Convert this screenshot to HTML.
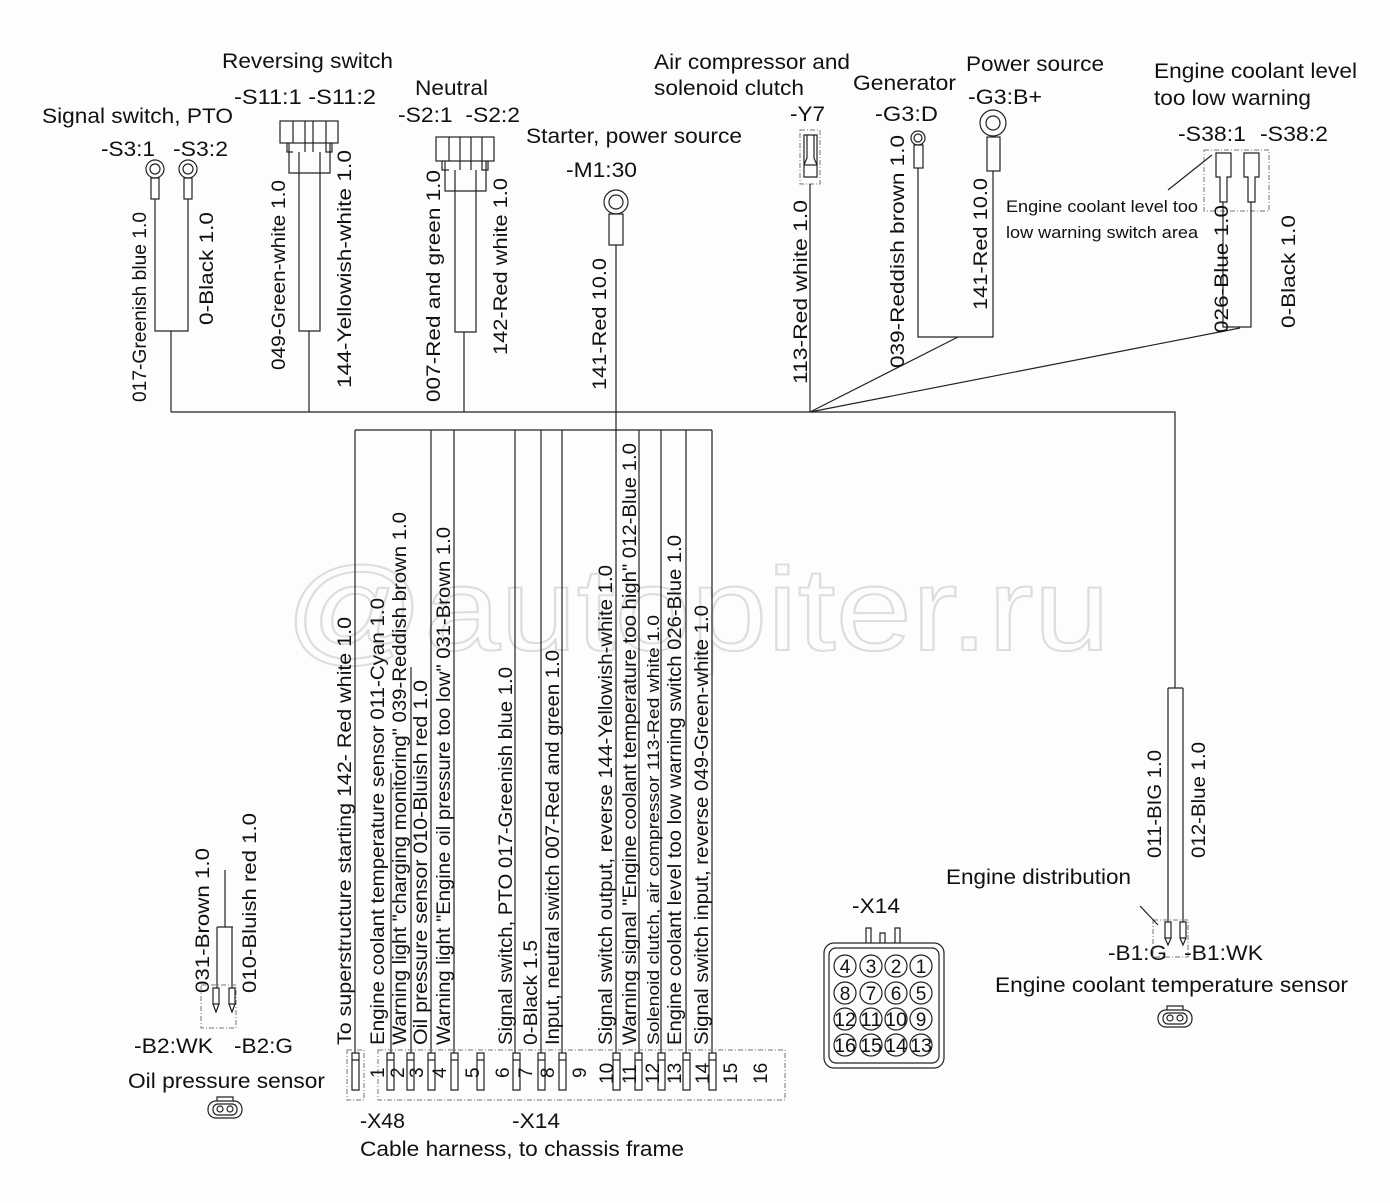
<!DOCTYPE html>
<html><head><meta charset="utf-8"><style>
html,body{margin:0;padding:0;background:#fff;}
svg{display:block;}
text{font-family:"Liberation Sans",Arial,sans-serif;fill:#111;}
.l{stroke:#222;stroke-width:1.2;fill:none;}
.d{stroke:#777;stroke-width:1;fill:none;stroke-dasharray:5,2,1,2;}
</style></head><body>
<svg width="1390" height="1203" viewBox="0 0 1390 1203" xmlns="http://www.w3.org/2000/svg">
<rect width="1390" height="1203" fill="#fcfdfd"/>
<!-- watermark -->
<text x="285" y="650" font-size="118" style="fill:none;stroke:#ddd;stroke-width:2" textLength="825" lengthAdjust="spacingAndGlyphs">@autopiter.ru</text>

<!-- titles top -->
<g font-size="21">
<text x="42" y="123" textLength="191" lengthAdjust="spacingAndGlyphs">Signal switch, PTO</text>
<text x="101" y="156" textLength="54" lengthAdjust="spacingAndGlyphs">-S3:1</text><text x="173" y="156" textLength="55" lengthAdjust="spacingAndGlyphs">-S3:2</text>
<text x="222" y="68" textLength="171" lengthAdjust="spacingAndGlyphs">Reversing switch</text>
<text x="234" y="104" textLength="142" lengthAdjust="spacingAndGlyphs">-S11:1 -S11:2</text>
<text x="415" y="95" textLength="73" lengthAdjust="spacingAndGlyphs">Neutral</text>
<text x="398" y="122" textLength="122" lengthAdjust="spacingAndGlyphs">-S2:1 &#160;-S2:2</text>
<text x="526" y="143" textLength="216" lengthAdjust="spacingAndGlyphs">Starter, power source</text>
<text x="566" y="177" textLength="71" lengthAdjust="spacingAndGlyphs">-M1:30</text>
<text x="654" y="69" textLength="196" lengthAdjust="spacingAndGlyphs">Air compressor and</text>
<text x="654" y="95" textLength="150" lengthAdjust="spacingAndGlyphs">solenoid clutch</text>
<text x="790" y="121" textLength="35" lengthAdjust="spacingAndGlyphs">-Y7</text>
<text x="853" y="90" textLength="103" lengthAdjust="spacingAndGlyphs">Generator</text>
<text x="875" y="121" textLength="63" lengthAdjust="spacingAndGlyphs">-G3:D</text>
<text x="966" y="71" textLength="138" lengthAdjust="spacingAndGlyphs">Power source</text>
<text x="968" y="104" textLength="74" lengthAdjust="spacingAndGlyphs">-G3:B+</text>
<text x="1154" y="78" textLength="203" lengthAdjust="spacingAndGlyphs">Engine coolant level</text>
<text x="1154" y="105" textLength="157" lengthAdjust="spacingAndGlyphs">too low warning</text>
<text x="1178" y="141" textLength="68" lengthAdjust="spacingAndGlyphs">-S38:1</text><text x="1260" y="141" textLength="68" lengthAdjust="spacingAndGlyphs">-S38:2</text>
<text x="946" y="884" textLength="185" lengthAdjust="spacingAndGlyphs">Engine distribution</text>
<text x="1108" y="960" textLength="59" lengthAdjust="spacingAndGlyphs">-B1:G</text><text x="1184" y="960" textLength="79" lengthAdjust="spacingAndGlyphs">-B1:WK</text>
<text x="995" y="992" textLength="353" lengthAdjust="spacingAndGlyphs">Engine coolant temperature sensor</text>
<text x="852" y="913" textLength="48" lengthAdjust="spacingAndGlyphs">-X14</text>
<text x="134" y="1053" textLength="79" lengthAdjust="spacingAndGlyphs">-B2:WK</text><text x="234" y="1053" textLength="59" lengthAdjust="spacingAndGlyphs">-B2:G</text>
<text x="128" y="1088" textLength="197" lengthAdjust="spacingAndGlyphs">Oil pressure sensor</text>
<text x="360" y="1128" textLength="45" lengthAdjust="spacingAndGlyphs">-X48</text>
<text x="512" y="1128" textLength="48" lengthAdjust="spacingAndGlyphs">-X14</text>
<text x="360" y="1156" textLength="324" lengthAdjust="spacingAndGlyphs">Cable harness, to chassis frame</text>
</g>
<text x="1006" y="212" font-size="17" textLength="192" lengthAdjust="spacingAndGlyphs">Engine coolant level too</text>
<text x="1006" y="238" font-size="17" textLength="192" lengthAdjust="spacingAndGlyphs">low warning switch area</text>

<!-- S3 -->
<circle class="l" cx="155" cy="169" r="9"/><circle class="l" cx="155" cy="169" r="5"/>
<rect class="l" x="151" y="178" width="8" height="21"/>
<circle class="l" cx="188" cy="169" r="9"/><circle class="l" cx="188" cy="169" r="5"/>
<rect class="l" x="184" y="178" width="8" height="21"/>
<path class="l" d="M155 199V331H188V199M171 331V412"/>
<!-- S11 -->
<rect class="l" x="280" y="121" width="58" height="22"/>
<path class="l" d="M293 121V143M305 121V152M313 121V152M326 121V143M287 143V152H293M326 143V152H332V143"/>
<path class="l" d="M289 143V173H330V143M299 152V331H320V152M309 331V412"/>
<!-- S2 -->
<rect class="l" x="436" y="137" width="58" height="24"/>
<path class="l" d="M449 137V161M460 137V170M471 137V170M482 137V161M442 161V170H449M482 161V170H488V161"/>
<path class="l" d="M445 161V191H486V161M455 170V332H476V170M464 332V412"/>
<!-- M1 -->
<circle class="l" cx="616" cy="202" r="12"/><circle class="l" cx="616" cy="202" r="7"/>
<rect class="l" x="609" y="214" width="14" height="31"/>
<path class="l" d="M616 245V430"/>
<!-- Y7 -->
<rect class="d" x="800" y="130" width="20" height="54"/>
<path class="l" d="M804 135H817V177H804ZM804 165H817M807 135V158L804 165M814 135V158L817 165"/>
<path class="l" d="M810 184V412"/>
<!-- G3 -->
<circle class="l" cx="918" cy="138" r="7"/><circle class="l" cx="918" cy="138" r="4"/>
<rect class="l" x="914" y="145" width="9" height="23"/>
<circle class="l" cx="993" cy="123" r="13"/><circle class="l" cx="993" cy="123" r="7"/>
<rect class="l" x="987" y="137" width="13" height="34"/>
<path class="l" d="M918 168V337H993V171M958 337L810 412"/>
<!-- S38 -->
<rect class="d" x="1204" y="150" width="65" height="61"/>
<path class="l" d="M1216 153H1231V177H1227V202H1220V177H1216Z M1244 153H1259V177H1255V202H1248V177H1244Z"/>
<path class="l" d="M1223 202V327H1251V202M1240 328L810 412M1168 190L1212 155"/>
<!-- main lines -->
<path class="l" d="M171 412H1175V688M355 430H712"/>
<path class="l" d="M355 430V1053M431 430V1053M454 430V1053M515 430V1053M541 430V1053M562 430V1053M616 430V1053M639 430V1053M661 430V1053M686 430V1053M712 430V1053M391 773V1053M411 667V1053"/>
<!-- pins -->
<g class="l" stroke-width="1">
<path d="M352 1053h7v7h-7zM352 1060h7v30h-7z"/>
<path d="M387 1053h7v7h-7zM387 1060h7v30h-7z"/>
<path d="M407 1053h7v7h-7zM407 1060h7v30h-7z"/>
<path d="M428 1053h7v7h-7zM428 1060h7v30h-7z"/>
<path d="M451 1053h7v7h-7zM451 1060h7v30h-7z"/>
<path d="M477 1053h7v7h-7zM477 1060h7v30h-7z"/>
<path d="M513 1053h7v7h-7zM513 1060h7v30h-7z"/>
<path d="M538 1053h7v7h-7zM538 1060h7v30h-7z"/>
<path d="M559 1053h7v7h-7zM559 1060h7v30h-7z"/>
<path d="M613 1053h7v7h-7zM613 1060h7v30h-7z"/>
<path d="M635 1053h7v7h-7zM635 1060h7v30h-7z"/>
<path d="M658 1053h7v7h-7zM658 1060h7v30h-7z"/>
<path d="M683 1053h7v7h-7zM683 1060h7v30h-7z"/>
<path d="M709 1053h7v7h-7zM709 1060h7v30h-7z"/>
</g>
<rect class="d" x="347" y="1050" width="17" height="50"/>
<rect class="d" x="378" y="1050" width="407" height="50"/>
<g font-size="19">
<text transform="translate(384,1078) rotate(-90)">1</text>
<text transform="translate(404,1078) rotate(-90)">2</text>
<text transform="translate(423,1078) rotate(-90)">3</text>
<text transform="translate(446,1078) rotate(-90)">4</text>
<text transform="translate(479,1078) rotate(-90)">5</text>
<text transform="translate(509,1078) rotate(-90)">6</text>
<text transform="translate(532,1078) rotate(-90)">7</text>
<text transform="translate(554,1078) rotate(-90)">8</text>
<text transform="translate(586,1078) rotate(-90)">9</text>
<text transform="translate(613,1084) rotate(-90)">10</text>
<text transform="translate(636,1084) rotate(-90)">11</text>
<text transform="translate(659,1084) rotate(-90)">12</text>
<text transform="translate(681,1084) rotate(-90)">13</text>
<text transform="translate(709,1084) rotate(-90)">14</text>
<text transform="translate(737,1084) rotate(-90)">15</text>
<text transform="translate(767,1084) rotate(-90)">16</text>
</g>

<!-- vertical labels -->
<g font-size="19">
<text transform="translate(146,402) rotate(-90)" textLength="190" lengthAdjust="spacingAndGlyphs">017-Greenish blue 1.0</text>
<text transform="translate(213,325) rotate(-90)" textLength="113" lengthAdjust="spacingAndGlyphs">0-Black 1.0</text>
<text transform="translate(285,370) rotate(-90)" textLength="190" lengthAdjust="spacingAndGlyphs">049-Green-white 1.0</text>
<text transform="translate(351,388) rotate(-90)" textLength="238" lengthAdjust="spacingAndGlyphs">144-Yellowish-white 1.0</text>
<text transform="translate(440,402) rotate(-90)" textLength="232" lengthAdjust="spacingAndGlyphs">007-Red and green 1.0</text>
<text transform="translate(507,355) rotate(-90)" textLength="177" lengthAdjust="spacingAndGlyphs">142-Red white 1.0</text>
<text transform="translate(606,390) rotate(-90)" textLength="132" lengthAdjust="spacingAndGlyphs">141-Red 10.0</text>
<text transform="translate(807,384) rotate(-90)" textLength="184" lengthAdjust="spacingAndGlyphs">113-Red white 1.0</text>
<text transform="translate(904,368) rotate(-90)" textLength="233" lengthAdjust="spacingAndGlyphs">039-Reddish brown 1.0</text>
<text transform="translate(987,310) rotate(-90)" textLength="132" lengthAdjust="spacingAndGlyphs">141-Red 10.0</text>
<text transform="translate(1228,333) rotate(-90)" textLength="128" lengthAdjust="spacingAndGlyphs">026-Blue 1.0</text>
<text transform="translate(1295,328) rotate(-90)" textLength="113" lengthAdjust="spacingAndGlyphs">0-Black 1.0</text>
<text transform="translate(1161,858) rotate(-90)" textLength="108" lengthAdjust="spacingAndGlyphs">011-BIG 1.0</text>
<text transform="translate(1205,858) rotate(-90)" textLength="116" lengthAdjust="spacingAndGlyphs">012-Blue 1.0</text>
<text transform="translate(209,993) rotate(-90)" textLength="145" lengthAdjust="spacingAndGlyphs">031-Brown 1.0</text>
<text transform="translate(256,993) rotate(-90)" textLength="180" lengthAdjust="spacingAndGlyphs">010-Bluish red 1.0</text>

<text transform="translate(351,1045) rotate(-90)" textLength="428" lengthAdjust="spacingAndGlyphs">To superstructure starting 142- Red white  1.0</text>
<text transform="translate(384,1045) rotate(-90)" textLength="447" lengthAdjust="spacingAndGlyphs">Engine coolant temperature sensor 011-Cyan 1.0</text>
<text transform="translate(406,1045) rotate(-90)" textLength="533" lengthAdjust="spacingAndGlyphs">Warning light "charging monitoring" 039-Reddish brown 1.0</text>
<text transform="translate(427,1045) rotate(-90)" textLength="365" lengthAdjust="spacingAndGlyphs">Oil pressure sensor 010-Bluish red 1.0</text>
<text transform="translate(450,1045) rotate(-90)" textLength="518" lengthAdjust="spacingAndGlyphs">Warning light "Engine oil pressure too low" 031-Brown 1.0</text>
<text transform="translate(512,1045) rotate(-90)" textLength="378" lengthAdjust="spacingAndGlyphs">Signal switch, PTO 017-Greenish blue 1.0</text>
<text transform="translate(537,1045) rotate(-90)" textLength="105" lengthAdjust="spacingAndGlyphs">0-Black 1.5</text>
<text transform="translate(559,1045) rotate(-90)" textLength="395" lengthAdjust="spacingAndGlyphs">Input, neutral switch 007-Red and green 1.0</text>
<text transform="translate(612,1045) rotate(-90)" textLength="480" lengthAdjust="spacingAndGlyphs">Signal switch output, reverse 144-Yellowish-white 1.0</text>
<text transform="translate(636,1045) rotate(-90)" textLength="602" lengthAdjust="spacingAndGlyphs">Warning signal "Engine coolant temperature too high" 012-Blue 1.0</text>
<text transform="translate(659,1045) rotate(-90)" textLength="430" lengthAdjust="spacingAndGlyphs" font-size="17">Solenoid clutch, air compressor 113-Red white  1.0</text>
<text transform="translate(681,1045) rotate(-90)" textLength="510" lengthAdjust="spacingAndGlyphs">Engine coolant level too low warning switch 026-Blue 1.0</text>
<text transform="translate(708,1045) rotate(-90)" textLength="440" lengthAdjust="spacingAndGlyphs">Signal switch input, reverse 049-Green-white 1.0</text>
</g>

<!-- B1 engine coolant temp sensor -->
<path class="l" d="M1168 688H1183M1168 688V922M1183 688V922"/>
<rect class="d" x="1153" y="920" width="35" height="37"/>
<path class="l" stroke-width="1" d="M1165 922h6v16h-6zM1180 922h6v16h-6zM1165 938l3 7l3-7M1180 938l3 7l3-7M1140 906L1158 925"/>
<g class="l" stroke-width="1.5"><rect x="1158" y="1010" width="34" height="17" rx="8"/><rect x="1163" y="1013" width="24" height="11" rx="5"/><circle cx="1170" cy="1018" r="3"/><circle cx="1180" cy="1018" r="3"/><path d="M1167 1010v-4h16v4"/></g>

<!-- B2 oil pressure sensor -->
<path class="l" d="M225 870V927M217 927H233M217 927V988M232 927V988"/>
<rect class="d" x="201" y="985" width="35" height="43"/>
<path class="l" stroke-width="1" d="M213 988h6v16h-6zM229 988h6v16h-6zM213 1004l3 8l3-8M229 1004l3 8l3-8"/>
<g class="l" stroke-width="1.5"><rect x="208" y="1101" width="34" height="17" rx="8"/><rect x="213" y="1104" width="24" height="11" rx="5"/><circle cx="220" cy="1109" r="3"/><circle cx="230" cy="1109" r="3"/><path d="M217 1101v-4h16v4"/></g>

<!-- X14 face -->
<rect class="l" x="824" y="943" width="120" height="125" rx="10"/>
<rect class="l" x="829" y="948" width="110" height="115" rx="7"/>
<path class="l" d="M866 943V928H871V943M880 943V933H885V943M895 943V928H900V943"/>
<g class="l"><circle cx="845" cy="966" r="11"/><circle cx="871" cy="966" r="11"/><circle cx="896" cy="966" r="11"/><circle cx="921" cy="966" r="11"/>
<circle cx="845" cy="993" r="11"/><circle cx="871" cy="993" r="11"/><circle cx="896" cy="993" r="11"/><circle cx="921" cy="993" r="11"/>
<circle cx="845" cy="1019" r="11"/><circle cx="871" cy="1019" r="11"/><circle cx="896" cy="1019" r="11"/><circle cx="921" cy="1019" r="11"/>
<circle cx="845" cy="1045" r="11"/><circle cx="871" cy="1045" r="11"/><circle cx="896" cy="1045" r="11"/><circle cx="921" cy="1045" r="11"/></g>
<g font-size="19" text-anchor="middle">
<text x="845" y="973">4</text><text x="871" y="973">3</text><text x="896" y="973">2</text><text x="921" y="973">1</text>
<text x="845" y="1000">8</text><text x="871" y="1000">7</text><text x="896" y="1000">6</text><text x="921" y="1000">5</text>
<text x="845" y="1026" textLength="22" lengthAdjust="spacingAndGlyphs">12</text><text x="871" y="1026" textLength="22" lengthAdjust="spacingAndGlyphs">11</text><text x="896" y="1026" textLength="22" lengthAdjust="spacingAndGlyphs">10</text><text x="921" y="1026">9</text>
<text x="845" y="1052" textLength="22" lengthAdjust="spacingAndGlyphs">16</text><text x="871" y="1052" textLength="22" lengthAdjust="spacingAndGlyphs">15</text><text x="896" y="1052" textLength="22" lengthAdjust="spacingAndGlyphs">14</text><text x="921" y="1052" textLength="22" lengthAdjust="spacingAndGlyphs">13</text>
</g>
</svg>
</body></html>
